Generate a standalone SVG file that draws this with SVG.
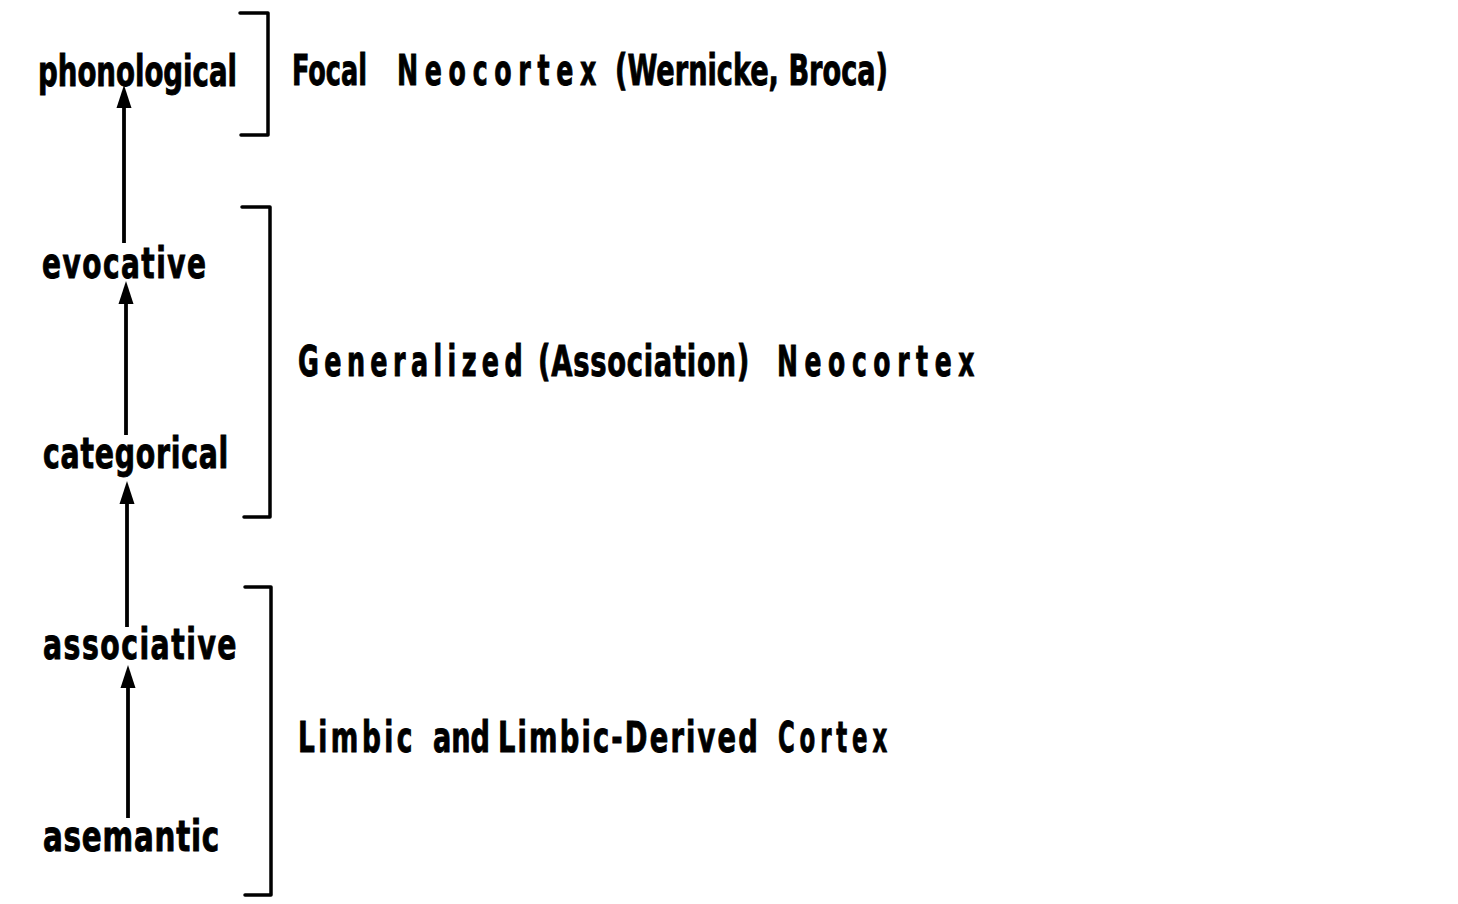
<svg xmlns="http://www.w3.org/2000/svg" width="1458" height="904" viewBox="0 0 1458 904">
<style>
text{font-family:"Liberation Sans Narrow","DejaVu Sans Condensed","Liberation Sans",Arial,sans-serif;font-weight:bold;font-size:42px;fill:#000;stroke:#000;stroke-width:0.9}
.br{fill:none;stroke:#000;stroke-width:3.5;stroke-linejoin:round;stroke-linecap:round}
.ar{stroke:#000;stroke-width:3.8}
</style>
<defs>
<marker id="ah" markerUnits="userSpaceOnUse" markerWidth="26" markerHeight="18" viewBox="0 -9 26 18" refX="0" refY="0" orient="auto">
<path d="M0,-7.5 L23,0 L0,7.5 z" fill="#000"/>
</marker>
</defs>
<rect width="1458" height="904" fill="#fff"/>

<g id="node-phonological"><text transform="matrix(0.73 0 0 1 38 86)" textLength="272.6" lengthAdjust="spacingAndGlyphs">phonological</text></g>
<g id="node-evocative"><text transform="matrix(0.741 0 0 1 42 278)" textLength="223.3" lengthAdjust="spacingAndGlyphs" letter-spacing="2">evocative</text></g>
<g id="node-categorical"><text transform="matrix(0.75 0 0 1 43 468)" textLength="248" lengthAdjust="spacingAndGlyphs" letter-spacing="1">categorical</text></g>
<g id="node-associative"><text transform="matrix(0.748 0 0 1 43 659)" textLength="260.7" lengthAdjust="spacingAndGlyphs" letter-spacing="2">associative</text></g>
<g id="node-asemantic"><text transform="matrix(0.777 0 0 1 43 851)" textLength="227.8" lengthAdjust="spacingAndGlyphs" letter-spacing="1">asemantic</text></g>

<g id="region-focal">
<polyline class="br" points="240,13 268,13 268,135 241,135"/>
<text transform="matrix(0.665 0 0 1 292 85)" textLength="112.8" lengthAdjust="spacingAndGlyphs">Focal</text>
<text transform="matrix(0.663 0 0 1 397 85)" textLength="310.7" lengthAdjust="spacingAndGlyphs" letter-spacing="10">Neocortex</text>
<text transform="matrix(0.714 0 0 1 615 85)" textLength="382.4" lengthAdjust="spacingAndGlyphs">(Wernicke, Broca)</text>
</g>

<g id="region-generalized">
<polyline class="br" points="242,207 270,207 270,517 244,517"/>
<text transform="matrix(0.673 0 0 1 298 376)" textLength="341.8" lengthAdjust="spacingAndGlyphs" letter-spacing="8">Generalized</text>
<text transform="matrix(0.725 0 0 1 538 376)" textLength="292.4" lengthAdjust="spacingAndGlyphs" letter-spacing="1">(Association)</text>
<text transform="matrix(0.656 0 0 1 777 376)" textLength="311" lengthAdjust="spacingAndGlyphs" letter-spacing="10">Neocortex</text>
</g>

<g id="region-limbic">
<polyline class="br" points="245,587 271,587 271,895 245,895"/>
<text transform="matrix(0.699 0 0 1 298 752)" textLength="168.8" lengthAdjust="spacingAndGlyphs" letter-spacing="5">Limbic</text>
<text transform="matrix(0.717 0 0 1 433 752)" textLength="79.5" lengthAdjust="spacingAndGlyphs">and</text>
<text transform="matrix(0.723 0 0 1 498 752)" textLength="362.4" lengthAdjust="spacingAndGlyphs" letter-spacing="3">Limbic-Derived</text>
<text transform="matrix(0.597 0 0 1 778 752)" textLength="191" lengthAdjust="spacingAndGlyphs" letter-spacing="8">Cortex</text>
</g>

<g id="connectors">
<line class="ar" x1="124" y1="243" x2="124" y2="108" marker-end="url(#ah)"/>
<line class="ar" x1="126" y1="435" x2="126" y2="304" marker-end="url(#ah)"/>
<line class="ar" x1="127" y1="627" x2="127" y2="504" marker-end="url(#ah)"/>
<line class="ar" x1="128" y1="818" x2="128" y2="688" marker-end="url(#ah)"/>
</g>
</svg>
